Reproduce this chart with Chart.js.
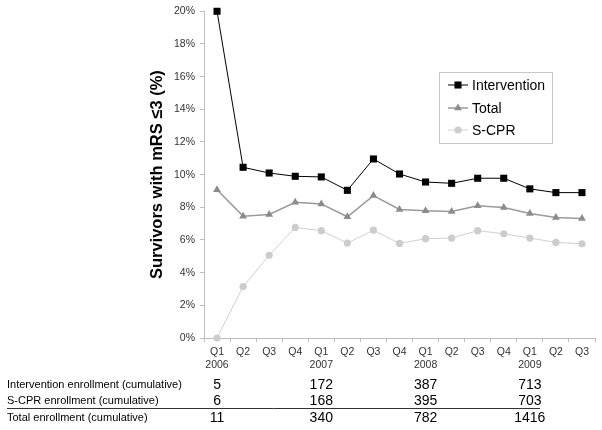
<!DOCTYPE html>
<html>
<head>
<meta charset="utf-8">
<script src="https://cdn.jsdelivr.net/npm/chart.js@4"></script>
<style>
  body { margin: 0; background: #fff; }
  #wrap { width: 602px; height: 430px; }
</style>
</head>
<body>
<div id="wrap"><canvas id="myChart"></canvas></div>
<script>
/*------------------------------DATA--------------------------------------------*/

const quarters = [
    ['Q1', '2006'], 'Q2', 'Q3', 'Q4',
    ['Q1', '2007'], 'Q2', 'Q3', 'Q4',
    ['Q1', '2008'], 'Q2', 'Q3', 'Q4',
    ['Q1', '2009'], 'Q2', 'Q3'
]

const intervention = [20.0, 10.45, 10.1, 9.9, 9.86, 9.04, 10.96, 10.04, 9.55, 9.47, 9.78, 9.78, 9.13, 8.9, 8.9]
const total = [9.07, 7.46, 7.56, 8.31, 8.21, 7.42, 8.72, 7.87, 7.79, 7.74, 8.09, 7.99, 7.62, 7.38, 7.32]
const scpr = [0.0, 3.15, 5.06, 6.77, 6.57, 5.81, 6.6, 5.79, 6.08, 6.12, 6.57, 6.38, 6.12, 5.85, 5.77]

const yTicks = [0, 2, 4, 6, 8, 10, 12, 14, 16, 18, 20]

// enrollment table under the axis
const enrollCols = [0, 4, 8, 12]
const interventionEnroll = [5, 172, 387, 713]
const scprEnroll = [6, 168, 395, 703]
const totalEnroll = [11, 340, 782, 1416]
const rowLabels = [
    'Intervention enrollment (cumulative)',
    'S-CPR enrollment (cumulative)',
    'Total enrollment (cumulative)'
]

/*------------------------------PLUGINS--------------------------------------------*/

const FONT = "'Liberation Sans', Arial, sans-serif";

const boxLegend = {
    id: 'boxLegend',
    afterDraw(chart) {
        const ctx = chart.ctx;
        ctx.save();
        ctx.strokeStyle = '#c8c8c8';
        ctx.lineWidth = 1;
        ctx.strokeRect(439.5, 72.5, 113, 71);
        const rowsY = [85, 108, 130];
        chart.data.datasets.forEach((ds, i) => {
            const y = rowsY[i];
            ctx.strokeStyle = ds.borderColor;
            ctx.lineWidth = ds.borderWidth;
            ctx.beginPath();
            ctx.moveTo(448, y);
            ctx.lineTo(468, y);
            ctx.stroke();
            ctx.fillStyle = ds.pointBackgroundColor;
            ctx.strokeStyle = ds.pointBackgroundColor;
            Chart.helpers.drawPoint(ctx, {pointStyle: ds.pointStyle, radius: ds.pointRadius, borderWidth: 0}, 458, y);
            ctx.fillStyle = '#000';
            ctx.font = '14px ' + FONT;
            ctx.textBaseline = 'middle';
            ctx.textAlign = 'left';
            ctx.fillText(ds.label, 472, y + 1);
        });
        ctx.restore();
    }
};

const enrollTable = {
    id: 'enrollTable',
    afterDraw(chart) {
        const ctx = chart.ctx;
        const x = chart.scales.x;
        const rows = [interventionEnroll, scprEnroll, totalEnroll];
        const rowsY = [385, 401, 418];
        ctx.save();
        ctx.textBaseline = 'middle';
        rows.forEach((vals, r) => {
            ctx.fillStyle = '#000';
            ctx.font = '11px ' + FONT;
            ctx.textAlign = 'left';
            ctx.fillText(rowLabels[r], 7, rowsY[r]);
            ctx.font = '14px ' + FONT;
            ctx.textAlign = 'center';
            vals.forEach((v, k) => {
                ctx.fillText(String(v), x.getPixelForValue(enrollCols[k]), rowsY[r]);
            });
        });
        ctx.strokeStyle = '#333';
        ctx.lineWidth = 1;
        ctx.beginPath();
        ctx.moveTo(7, 408.5);
        ctx.lineTo(540, 408.5);
        ctx.stroke();
        ctx.restore();
    }
};

/*------------------------------CHART--------------------------------------------*/

const data = {
    labels: quarters,
    datasets: [{
        label: 'Intervention',
        data: intervention,
        borderColor: '#000',
        borderWidth: 1,
        pointStyle: 'rect',
        pointRadius: 5,
        pointBackgroundColor: '#000',
        pointBorderWidth: 0,
        clip: false
    }, {
        label: 'Total',
        data: total,
        borderColor: '#9a9a9a',
        borderWidth: 1.5,
        pointStyle: 'triangle',
        pointRadius: 4.5,
        pointBackgroundColor: '#8c8c8c',
        pointBorderWidth: 0,
        clip: false
    }, {
        label: 'S-CPR',
        data: scpr,
        borderColor: '#cfcfcf',
        borderWidth: 1,
        pointStyle: 'circle',
        pointRadius: 3.6,
        pointBackgroundColor: '#cccccc',
        pointBorderWidth: 0,
        clip: false
    }]
};

const config = {
    type: 'line',
    data: data,
    plugins: [boxLegend, enrollTable],
    options: {
        responsive: true,
        maintainAspectRatio: false,
        animation: false,
        layout: { padding: { left: 146, top: 10, right: 7, bottom: 55 } },
        plugins: { legend: { display: false }, tooltip: { enabled: false } },
        scales: {
            x: {
                offset: true,
                grid: { offset: true, drawOnChartArea: false, drawTicks: true, tickLength: 4, color: '#bdbdbd' },
                border: { color: '#bdbdbd' },
                ticks: { color: '#333', font: { family: FONT, size: 10.5 }, maxRotation: 0, autoSkip: false, padding: 4 },
                afterFit: (s) => { s.height = 37; }
            },
            y: {
                min: 0,
                max: 20,
                afterBuildTicks: (s) => { s.ticks = yTicks.map(v => ({ value: v })); },
                grid: { drawOnChartArea: false, drawTicks: true, tickLength: 4, color: '#bdbdbd' },
                border: { color: '#bdbdbd' },
                ticks: { color: '#333', font: { family: FONT, size: 10.5 }, padding: 5, callback: (v) => v + '%' },
                title: {
                    display: true,
                    text: 'Survivors with mRS \u22643 (%)',
                    color: '#000',
                    font: { family: FONT, size: 16.5, weight: 'bold' },
                    padding: { top: 2, bottom: 0 }
                },
                afterFit: (s) => { s.width = 58; }
            }
        }
    }
};

const myChart = new Chart(
    document.getElementById('myChart'),
    config
);
</script>
</body>
</html>
